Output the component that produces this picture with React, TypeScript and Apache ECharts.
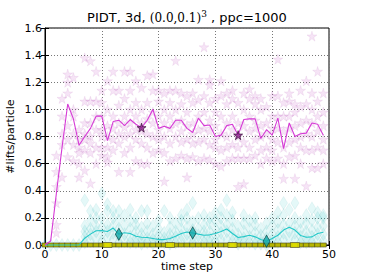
import React, { useEffect, useRef } from "react";
import * as echarts from "echarts";

// time steps 0..49
const steps: number[] = Array.from({ length: 50 }, (_, i) => i);

// mean lifts per particle (magenta, stars)
const magentaMean: number[] = [
  0, 0.03, 0.38, 0.72, 1.04, 0.93, 0.735, 0.8, 0.86, 0.95,
  0.95, 0.77, 0.91, 0.92, 0.88, 0.925, 0.89, 0.865, 0.92, 1.0,
  0.86, 0.876, 0.86, 0.92, 0.92, 0.86, 0.83, 0.935, 0.88, 0.885,
  0.8, 0.81, 0.88, 0.89, 0.81, 0.925, 0.93, 0.93, 0.785, 0.85,
  0.81, 0.935, 0.71, 0.9, 0.8, 0.82, 0.825, 0.9, 0.89, 0.81,
];

// mean (cyan, diamonds)
const cyanMean: number[] = [
  0, 0, 0, 0, 0, 0, 0, 0.05, 0.08, 0.105,
  0.106, 0.1, 0.125, 0.08, 0.09, 0.085, 0.065, 0.057, 0.055, 0.048,
  0.04, 0.04, 0.048, 0.065, 0.085, 0.096, 0.089, 0.08, 0.072, 0.075,
  0.085, 0.1, 0.118, 0.085, 0.055, 0.062, 0.072, 0.06, 0.04, 0.028,
  0.048, 0.072, 0.11, 0.13, 0.11, 0.07, 0.057, 0.06, 0.085, 0.094,
];

// mean (yellow, squares)
const yellowMean: number[] = steps.map(() => 0);

// individual samples per step (magenta stars)
const starSamples: number[][] = [
  [], [],
  [0.09, 0.15, 0.31, 0.43, 0.54, 0.66],
  [0.5, 0.74, 0.82, 0.95, 1.08],
  [0.65, 0.78, 0.88, 1.12, 1.2, 1.26],
  [0.62, 0.74, 0.82, 0.95, 1.0, 1.235],
  [0.5, 0.6, 0.68, 0.72, 0.78, 0.85],
  [0.55, 0.7, 0.78, 0.82, 0.9, 1.06, 1.38],
  [0.455, 0.68, 0.75, 0.8, 0.9, 1.06, 1.357],
  [0.6, 0.72, 0.85, 0.95, 1.06, 1.28],
  [0.66, 0.72, 0.8, 0.85, 0.95, 1.05, 1.14],
  [0.61, 0.65, 0.72, 0.8, 0.88, 1.0, 1.21],
  [0.7, 0.78, 0.86, 0.95, 1.14, 1.28],
  [0.54, 0.75, 0.82, 0.9, 1.03, 1.14],
  [0.68, 0.8, 0.87, 0.95, 1.08, 1.28],
  [0.54, 0.72, 0.82, 0.9, 1.0, 1.14, 1.28],
  [0.62, 0.78, 0.85, 0.95, 1.05, 1.21],
  [0.6, 0.75, 0.84, 0.9, 1.0, 1.16],
  [0.6, 0.72, 0.82, 0.93, 1.05, 1.25],
  [0.68, 0.8, 0.9, 0.98, 1.14, 1.26],
  [0.7, 0.78, 0.85, 0.95, 1.06, 1.14],
  [0.47, 0.68, 0.8, 0.9, 1.0, 1.12],
  [0.62, 0.75, 0.86, 0.95, 1.05, 1.14],
  [0.64, 0.8, 0.9, 1.0, 1.14, 1.36],
  [0.66, 0.76, 0.84, 0.92, 1.04, 1.12],
  [0.5, 0.64, 0.78, 0.88, 0.98, 1.1],
  [0.65, 0.75, 0.82, 0.9, 1.05, 1.12],
  [0.62, 0.76, 0.85, 0.95, 1.07, 1.22],
  [0.64, 0.78, 0.86, 0.98, 1.1, 1.46],
  [0.63, 0.74, 0.84, 0.92, 1.05, 1.18, 1.22],
  [0.6, 0.72, 0.78, 0.88, 0.98, 1.08],
  [0.58, 0.7, 0.82, 0.95, 1.1, 1.21],
  [0.62, 0.72, 0.8, 0.9, 1.04, 1.12],
  [0.64, 0.74, 0.85, 0.95, 1.08, 1.14],
  [0.43, 0.64, 0.72, 0.8, 0.9, 1.05],
  [0.45, 0.64, 0.76, 0.88, 1.0, 1.12],
  [0.64, 0.72, 0.84, 0.95, 1.08, 1.15],
  [0.66, 0.78, 0.86, 0.92, 1.04, 1.1],
  [0.6, 0.7, 0.8, 0.88, 1.0, 1.08],
  [0.64, 0.72, 0.82, 0.9, 1.02],
  [0.62, 0.7, 0.78, 0.86, 0.95, 1.1],
  [0.64, 0.76, 0.86, 0.95, 1.1, 1.37],
  [0.49, 0.6, 0.72, 0.84, 0.95, 1.05],
  [0.65, 0.76, 0.86, 0.95, 1.06, 1.12],
  [0.49, 0.66, 0.78, 0.88, 0.98, 1.04],
  [0.6, 0.72, 0.8, 0.9, 1.02, 1.14],
  [0.435, 0.7, 0.82, 0.92, 1.04, 1.21],
  [0.57, 0.7, 0.8, 0.9, 1.0, 1.12, 1.54],
  [0.57, 0.72, 0.84, 0.95, 1.06, 1.28],
  [0.6, 0.7, 0.78, 0.88, 0.98, 1.12],
];

// individual samples per step (cyan diamonds)
const diamondSamples: number[][] = [
  [0], [0], [0], [0], [0], [0], [0],
  [0.02, 0.06, 0.1, 0.14, 0.33],
  [0.03, 0.08, 0.12, 0.18, 0.25],
  [0.04, 0.1, 0.14, 0.2, 0.26],
  [0.03, 0.08, 0.13, 0.2, 0.38],
  [0.05, 0.1, 0.15, 0.25, 0.3],
  [0.04, 0.09, 0.14, 0.2, 0.25],
  [0.02, 0.07, 0.12, 0.18, 0.25],
  [0.03, 0.08, 0.14, 0.22],
  [0.02, 0.06, 0.12, 0.18, 0.26],
  [0.02, 0.05, 0.1, 0.15, 0.2],
  [0.01, 0.04, 0.08, 0.13, 0.25],
  [0.02, 0.05, 0.1, 0.16, 0.25],
  [0.01, 0.04, 0.08, 0.14],
  [0.01, 0.03, 0.07, 0.12, 0.18],
  [0.02, 0.05, 0.09, 0.25],
  [0.01, 0.04, 0.08, 0.13, 0.2],
  [0.02, 0.06, 0.1, 0.16],
  [0.03, 0.07, 0.12, 0.18, 0.22],
  [0.03, 0.08, 0.13, 0.2, 0.26],
  [0.02, 0.06, 0.11, 0.17, 0.31],
  [0.03, 0.07, 0.12, 0.2],
  [0.02, 0.06, 0.1, 0.15, 0.22],
  [0.02, 0.05, 0.1, 0.16, 0.2],
  [0.03, 0.07, 0.12, 0.18, 0.24],
  [0.04, 0.09, 0.14, 0.2, 0.26],
  [0.04, 0.1, 0.15, 0.22, 0.33],
  [0.03, 0.07, 0.12, 0.18, 0.24],
  [0.01, 0.04, 0.08, 0.14],
  [0.02, 0.05, 0.1, 0.16, 0.22],
  [0.02, 0.06, 0.12, 0.18],
  [0.01, 0.04, 0.09, 0.15, 0.2],
  [0.01, 0.03, 0.07, 0.12],
  [0.0, 0.02, 0.05, 0.1, 0.16],
  [0.01, 0.04, 0.08, 0.14, 0.2],
  [0.02, 0.06, 0.11, 0.17, 0.24],
  [0.04, 0.09, 0.15, 0.22, 0.31],
  [0.05, 0.1, 0.16, 0.26],
  [0.04, 0.09, 0.14, 0.2, 0.31],
  [0.02, 0.06, 0.11, 0.17],
  [0.02, 0.05, 0.1, 0.16, 0.22],
  [0.02, 0.06, 0.11, 0.18, 0.27],
  [0.03, 0.08, 0.13, 0.2, 0.24],
  [0.03, 0.08, 0.14, 0.2, 0.22],
];

// steps where the highlighted markers sit on each mean curve
const magentaMarkSteps: number[] = [17, 34];
const cyanMarkSteps: number[] = [13, 26, 39];
const yellowMarkSteps: number[] = [11, 22, 33, 44];

// title pieces: [text, font family, font size, raise]
const titleParts: [string, string, number, number][] = [
  ["PIDT, 3d, ", "DejaVu Sans", 13, 0],
  ["(0.0,0.1)", "DejaVu Serif", 12, 0],
  ["3", "DejaVu Serif", 9, 6],
  [" , ppc=1000", "DejaVu Sans", 13, 0],
];

const xTicks = { min: 0, max: 50, interval: 10 };
const yTicks = { min: 0, max: 1.6, interval: 0.2 };

const STAR =
  "path://M50,0 L61,35 L98,35 L68,57 L79,91 L50,70 L21,91 L32,57 L2,35 L39,35 Z";

function measure(text: string, family: string, size: number): number {
  const c = document.createElement("canvas").getContext("2d");
  if (!c) return text.length * size * 0.6;
  c.font = `${size}px "${family}"`;
  return c.measureText(text).width;
}

export default function App() {
  const ref = useRef<HTMLDivElement>(null);
  useEffect(() => {
    if (!ref.current) return;
    const chart = echarts.init(ref.current, undefined, { renderer: "svg" });
    const starPts = starSamples.flatMap((vals, s) => vals.map((v) => [s, v]));
    const diaPts = diamondSamples.flatMap((vals, s) => vals.map((v) => [s, v]));
    const font = "DejaVu Sans";

    const widths = titleParts.map(([t, f, s]) => measure(t, f, s));
    const total = widths.reduce((a, b) => a + b, 0);
    const centerX = 187;
    const baseY = 24;
    let cx = centerX - total / 2;
    const titleEls = titleParts.map(([t, f, s, raise], i) => {
      const el = {
        type: "text",
        x: cx,
        y: baseY - raise,
        style: {
          text: t,
          fontFamily: f,
          fontSize: s,
          fill: "#000",
          align: "left",
          verticalAlign: "bottom",
        },
      };
      cx += widths[i];
      return el;
    });

    chart.setOption({
      animation: false,
      graphic: titleEls,
      grid: {
        left: 45,
        right: 37,
        top: 28,
        bottom: 29,
        show: true,
        borderColor: "#000",
        borderWidth: 1,
        outerBoundsMode: "none",
        containLabel: false,
      },
      xAxis: [
        {
          type: "value",
          ...xTicks,
          name: "time step",
          nameLocation: "middle",
          nameGap: 16,
          nameMoveOverlap: false,
          nameTextStyle: { fontFamily: font, fontSize: 11, color: "#000" },
          axisLine: { show: true, lineStyle: { color: "#000" } },
          axisTick: { inside: true, length: 4, lineStyle: { color: "#000" } },
          axisLabel: { fontFamily: font, fontSize: 11, color: "#000", margin: 4 },
          splitLine: { show: true, lineStyle: { color: "#777", type: [1, 2], width: 1 } },
        },
        {
          type: "value",
          ...xTicks,
          position: "top",
          axisLine: { show: false },
          axisTick: { inside: true, length: 4, lineStyle: { color: "#000" } },
          axisLabel: { show: false },
          splitLine: { show: false },
        },
      ],
      yAxis: [
        {
          type: "value",
          ...yTicks,
          name: "#lifts/particle",
          nameLocation: "middle",
          nameGap: 29,
          nameMoveOverlap: false,
          nameTextStyle: { fontFamily: font, fontSize: 11, color: "#000" },
          axisLine: { show: true, lineStyle: { color: "#000" } },
          axisTick: { inside: true, length: 4, lineStyle: { color: "#000" } },
          axisLabel: {
            fontFamily: font,
            fontSize: 11,
            color: "#000",
            margin: 3,
            formatter: (v: number) => v.toFixed(1),
          },
          splitLine: { show: true, lineStyle: { color: "#777", type: [1, 2], width: 1 } },
        },
        {
          type: "value",
          ...yTicks,
          position: "right",
          axisLine: { show: false },
          axisTick: { inside: true, length: 4, lineStyle: { color: "#000" } },
          axisLabel: { show: false },
          splitLine: { show: false },
        },
      ],
      series: [
        {
          type: "scatter",
          data: starPts,
          symbol: STAR,
          symbolSize: 10,
          clip: false,
          itemStyle: { color: "rgba(190,70,190,0.18)", borderColor: "rgba(150,40,150,0.12)", borderWidth: 0.8 },
          z: 1,
        },
        {
          type: "scatter",
          data: diaPts,
          symbol: "diamond",
          symbolSize: [8, 13],
          clip: false,
          itemStyle: { color: "rgba(0,190,190,0.13)", borderColor: "rgba(0,140,140,0.1)", borderWidth: 0.8 },
          z: 1,
        },
        {
          type: "line",
          data: steps.map((s) => [s, yellowMean[s]]),
          symbol: "rect",
          symbolSize: [6, 4],
          showSymbol: true,
          clip: false,
          lineStyle: { color: "#b8b800", width: 1.5 },
          itemStyle: { color: "#b5b500", borderColor: "#4a4a20", borderWidth: 0.6 },
          z: 3,
        },
        {
          type: "line",
          data: steps.map((s) => [s, cyanMean[s]]),
          showSymbol: false,
          clip: false,
          lineStyle: { color: "#22c8c8", width: 1.1 },
          z: 4,
        },
        {
          type: "line",
          data: steps.map((s) => [s, magentaMean[s]]),
          showSymbol: false,
          clip: false,
          lineStyle: { color: "#d63ad6", width: 1.1 },
          z: 4,
        },
        {
          type: "scatter",
          data: yellowMarkSteps.map((s) => [s, yellowMean[s]]),
          symbol: "rect",
          symbolSize: [9, 5],
          clip: false,
          itemStyle: { color: "#e6e600", borderColor: "#333", borderWidth: 0.6 },
          z: 5,
        },
        {
          type: "scatter",
          data: cyanMarkSteps.map((s) => [s, cyanMean[s]]),
          symbol: "diamond",
          symbolSize: [7, 12],
          clip: false,
          itemStyle: { color: "#10a8a8", borderColor: "#064040", borderWidth: 0.8 },
          z: 6,
        },
        {
          type: "scatter",
          data: magentaMarkSteps.map((s) => [s, magentaMean[s]]),
          symbol: STAR,
          symbolSize: 9,
          clip: false,
          itemStyle: { color: "#8a1f8a", borderColor: "#2a002a", borderWidth: 0.8 },
          z: 6,
        },
      ],
    });
    return () => chart.dispose();
  }, []);
  return (
    <div
      ref={ref}
      style={{ position: "absolute", left: 0, top: 0, width: 366, height: 274, background: "#fff" }}
    />
  );
}
